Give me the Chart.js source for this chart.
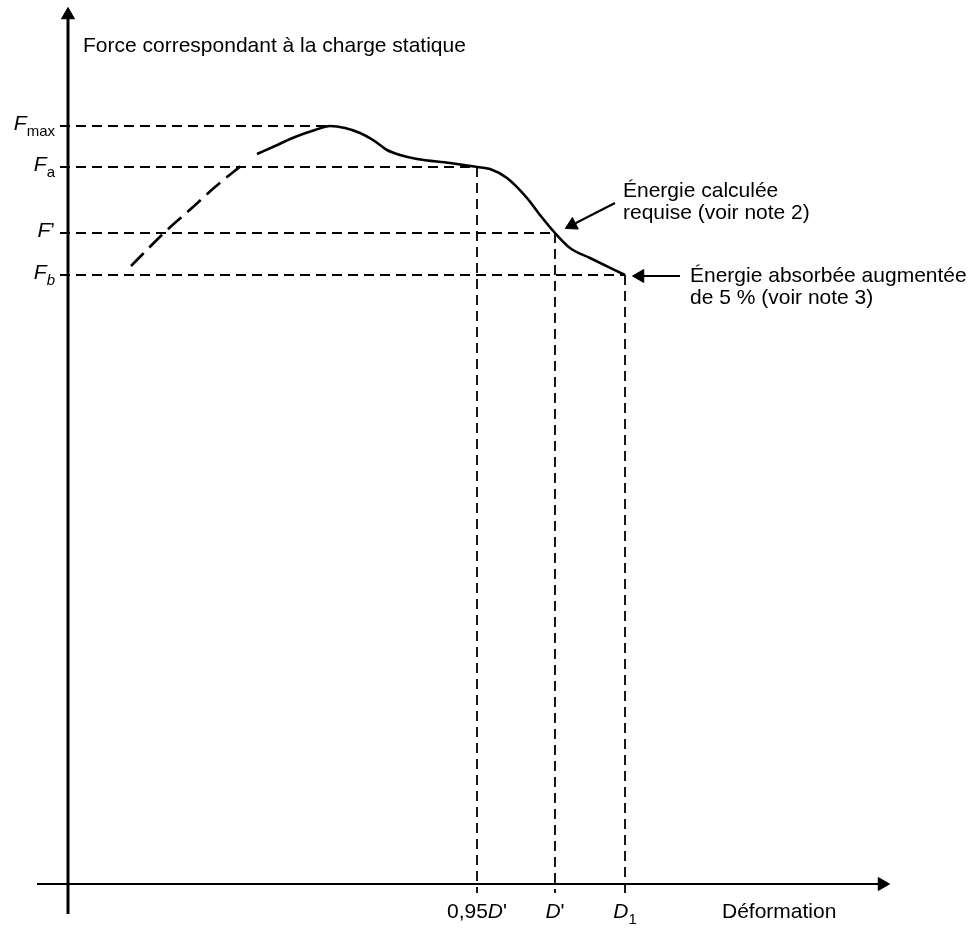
<!DOCTYPE html>
<html>
<head>
<meta charset="utf-8">
<script src="https://cdn.jsdelivr.net/npm/chart.js@4"></script>
<style>
  html, body { margin: 0; background: #fff; }
  #wrap { width: 974px; height: 928px; }
</style>
</head>
<body>
<div id="wrap"><canvas id="chart"></canvas></div>
<script>
// values, origin at the crossing of the two axes
const levelLabels = ["*F*_{max}", "*F*_{a}", "*F*’", "*F*_{*b*}"];
const levelValues = [758, 717, 651, 609];
const levelEnds   = [259, 409, 487, 557];

const defLabels = ["0,95*D*'", "*D*'", "*D*_{1}"];
const defValues = [409, 487, 557];
const defLevels = [717, 651, 609];

// dashed (extrapolated) start of the curve
const rampX = [63, 97, 125, 147, 174];
const rampY = [618, 652, 677, 697, 719];

// measured curve
const curveX = [189, 207, 227, 247, 262, 277, 292, 305, 319, 332, 349, 382, 409, 422, 439, 459, 472, 487, 502, 522, 557];
const curveY = [730, 738, 747, 754, 758, 756, 751, 744, 734, 729, 725, 721, 717, 715, 706, 686, 669, 651, 636, 626, 609];

const noteLines = [["Énergie calculée", "requise (voir note 2)"], ["Énergie absorbée augmentée", "de 5 % (voir note 3)"]];
const noteFrom  = [[547, 681], [612, 608]];
const noteTo    = [[504, 659], [572, 608]];
const noteAt    = [[555, 687], [622, 602]];

const yTitle = "Force correspondant à la charge statique";
const xTitle = "Déformation";

const pts = (xs, ys) => xs.map((x, i) => ({ x, y: ys[i] }));
const black = "#000";

const lastOnly = c => c.dataIndex === c.dataset.data.length - 1 ? 7.5 : 0;
const arrowRot = c => {
  const d = c.dataset.data, a = d[d.length - 2], b = d[d.length - 1];
  return Math.atan2(b.x - a.x, b.y - a.y) * 180 / Math.PI;
};
const arrow = (data, width) => ({
  data, borderColor: black, backgroundColor: black, borderWidth: width,
  pointRadius: lastOnly, pointStyle: "triangle", pointRotation: arrowRot,
  pointBorderWidth: 1, pointBorderColor: black, pointBackgroundColor: black, order: 0
});
const dashed = data => ({
  data, borderColor: black, borderWidth: 1.8, borderDash: [10, 6], pointRadius: 0, order: 2
});

const datasets = [
  { data: pts(curveX, curveY), borderColor: black, borderWidth: 2.6, pointRadius: 0,
    cubicInterpolationMode: "monotone", order: 0 },
  { data: pts(rampX, rampY), borderColor: black, borderWidth: 2.6, borderDash: [18, 8], pointRadius: 0,
    cubicInterpolationMode: "monotone", order: 0 },
  ...levelValues.map((v, i) => dashed([{ x: -8, y: v }, { x: levelEnds[i], y: v }])),
  ...defValues.map((v, i) => dashed([{ x: v, y: defLevels[i] }, { x: v, y: -9 }])),
  arrow([{ x: -31, y: 0 }, { x: 814, y: 0 }], 2),
  arrow([{ x: 0, y: -30 }, { x: 0, y: 869 }], 3),
  ...noteFrom.map((f, i) => arrow([{ x: f[0], y: f[1] }, { x: noteTo[i][0], y: noteTo[i][1] }], 2))
];

// tiny markup: *italic*, _{subscript}
function runs(s) {
  const out = []; let it = false, sub = false, buf = "";
  const push = () => { if (buf) out.push({ t: buf, it, sub }); buf = ""; };
  for (let i = 0; i < s.length; i++) {
    const ch = s[i];
    if (ch === "*") { push(); it = !it; }
    else if (ch === "_" && s[i + 1] === "{") { push(); sub = true; i++; }
    else if (ch === "}" && sub) { push(); sub = false; }
    else buf += ch;
  }
  push();
  return out;
}
function drawRich(ctx, s, x, y, align) {
  const parts = runs(s);
  const font = p => `${p.it ? "italic " : ""}${p.sub ? 15 : 21}px "Liberation Sans", Arial, sans-serif`;
  let w = 0;
  parts.forEach(p => { ctx.font = font(p); p.w = ctx.measureText(p.t).width; w += p.w; });
  let cx = align === "right" ? x - w : align === "center" ? x - w / 2 : x;
  parts.forEach(p => { ctx.font = font(p); ctx.fillText(p.t, cx, y + (p.sub ? 6 : 0)); cx += p.w; });
}

const labels = {
  id: "labels",
  afterDatasetsDraw(chart) {
    const { ctx, scales: { x, y } } = chart;
    const px = v => x.getPixelForValue(v), py = v => y.getPixelForValue(v);
    ctx.save();
    ctx.fillStyle = black;
    ctx.textAlign = "left";
    ctx.textBaseline = "alphabetic";
    levelLabels.forEach((s, i) => drawRich(ctx, s, px(-13), py(levelValues[i]) + 4, "right"));
    defLabels.forEach((s, i) => drawRich(ctx, s, px(defValues[i]), py(-34), "center"));
    drawRich(ctx, yTitle, px(15), py(832), "left");
    drawRich(ctx, xTitle, px(654), py(-34), "left");
    noteLines.forEach((lines, i) => lines.forEach((t, k) =>
      drawRich(ctx, t, px(noteAt[i][0]), py(noteAt[i][1]) + k * 22, "left")));
    ctx.restore();
  }
};

new Chart(document.getElementById("chart"), {
  type: "line",
  data: { datasets },
  options: {
    responsive: true,
    maintainAspectRatio: false,
    animation: false,
    events: [],
    layout: { padding: 0, autoPadding: false },
    plugins: { legend: { display: false }, tooltip: { enabled: false } },
    scales: {
      x: { type: "linear", min: -68, max: 906, display: false },
      y: { type: "linear", min: -44, max: 884, display: false }
    }
  },
  plugins: [labels]
});
</script>
</body>
</html>
